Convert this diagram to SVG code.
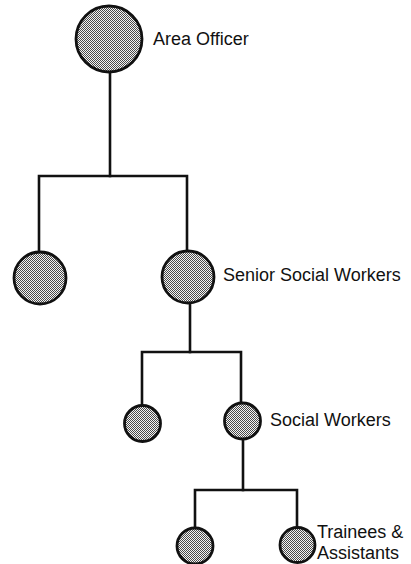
<svg xmlns="http://www.w3.org/2000/svg" width="411" height="564" viewBox="0 0 411 564">
  <defs>
    <!-- fine halftone stipple used inside every post circle -->
    <pattern id="stipple" width="2" height="2" patternUnits="userSpaceOnUse">
      <rect width="2" height="2" fill="#f4f4f4"/>
      <rect x="0" y="0" width="1" height="1" fill="#4a4a4a"/>
      <rect x="1" y="1" width="1" height="1" fill="#4a4a4a"/>
    </pattern>
    <style>
      .post { fill: url(#stipple); stroke: #111; stroke-width: 2.8; }
      .link { fill: none; stroke: #111; stroke-width: 2.6; stroke-linejoin: miter; stroke-linecap: square; }
      .label { font-family: "Liberation Sans", Arial, sans-serif; font-size: 18px; fill: #111; }
    </style>
  </defs>
  <rect width="411" height="564" fill="#fff"/>

  <!-- reporting lines -->
  <g id="connectors">
    <path class="link" d="M110 72 V176"/>
    <path class="link" d="M39 252 V176 H187 V251"/>
    <path class="link" d="M190 303 V352"/>
    <path class="link" d="M142 405 V352 H241 V403"/>
    <path class="link" d="M243 439 V490"/>
    <path class="link" d="M195 528 V490 H297 V527"/>
  </g>

  <g id="area-officer">
    <circle class="post" cx="109" cy="39" r="33"/>
    <text class="label" x="153" y="45">Area Officer</text>
  </g>

  <g id="senior-left">
    <circle class="post" cx="40" cy="278" r="26"/>
  </g>

  <g id="senior-social-workers">
    <circle class="post" cx="188" cy="277" r="26"/>
    <text class="label" x="223" y="281">Senior Social Workers</text>
  </g>

  <g id="social-left">
    <circle class="post" cx="142.5" cy="423.5" r="18"/>
  </g>

  <g id="social-workers">
    <circle class="post" cx="242.5" cy="421" r="18"/>
    <text class="label" x="270" y="426">Social Workers</text>
  </g>

  <g id="trainee-left">
    <circle class="post" cx="195" cy="546" r="18"/>
  </g>

  <g id="trainees-assistants">
    <circle class="post" cx="297.5" cy="545" r="17.5"/>
    <text class="label" x="317" y="538">Trainees &amp;</text>
    <text class="label" x="317" y="559">Assistants</text>
  </g>
</svg>
